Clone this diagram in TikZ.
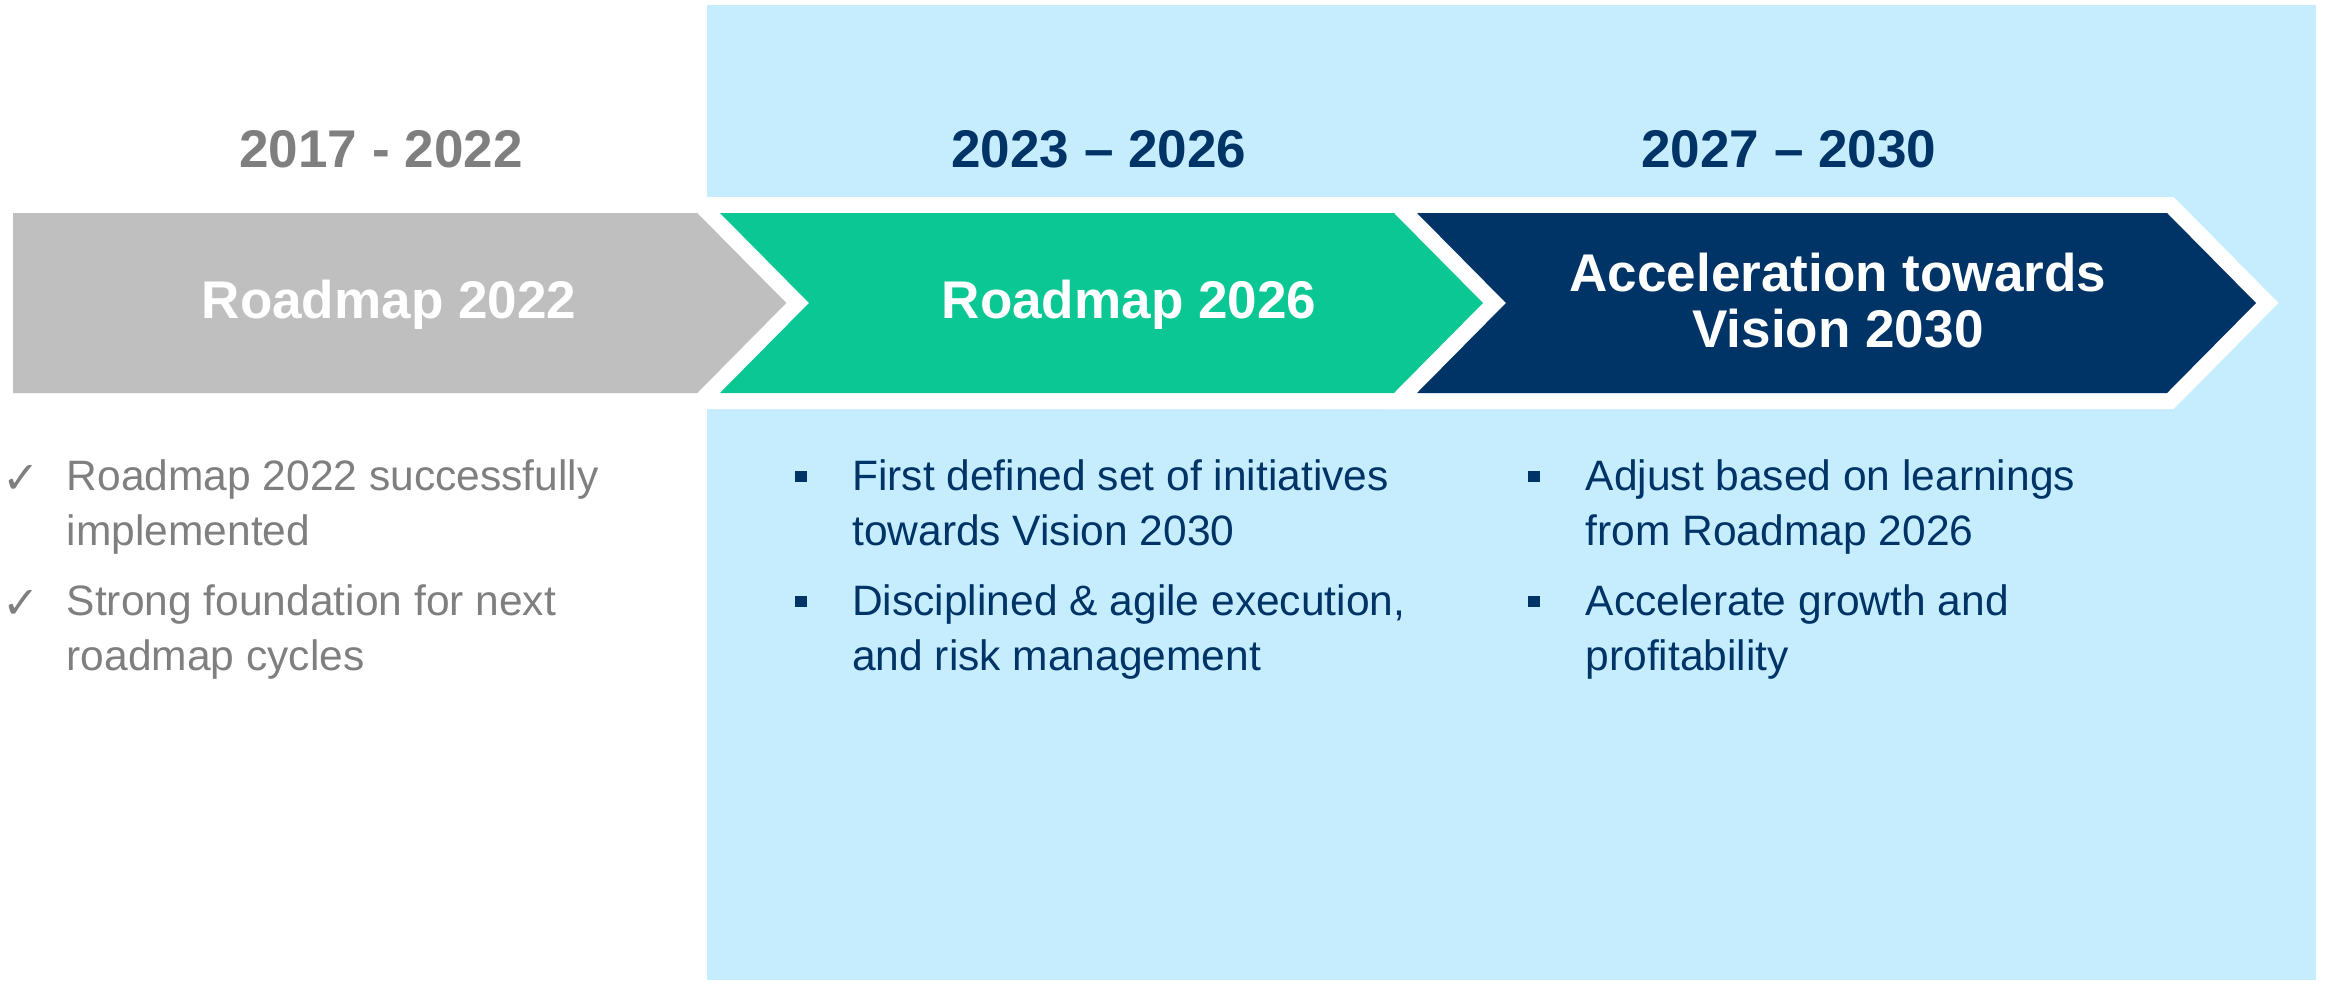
\documentclass[tikz,border=0pt]{standalone}
\usepackage{fontspec}
\setmainfont{Liberation Sans}
\newfontfamily\tickfont{DejaVu Sans}
\usepackage{tikz}
\usetikzlibrary{positioning}

\definecolor{stagegray}{RGB}{191,191,191}
\definecolor{stagegreen}{RGB}{10,199,147}
\definecolor{stagenavy}{RGB}{0,51,102}
\definecolor{futureblue}{RGB}{197,237,254}
\definecolor{pastgray}{RGB}{127,127,127}

\tikzset{
  stage/.style={preaction={draw=white,line width=3.2mm}},
  period/.style={font=\fontsize{15.1}{18}\selectfont\bfseries,anchor=base,inner sep=0},
  stagelabel/.style={font=\fontsize{15.1}{15.9}\selectfont\bfseries,text=white,align=center,anchor=base,inner sep=0},
  item/.style={font=\fontsize{12.1}{15.65}\selectfont,align=left,anchor=base west,inner sep=0},
  tick/.style={font=\tickfont\fontsize{12.7}{12.7}\selectfont,text=pastgray,anchor=base,inner sep=0},
  square/.style={fill=stagenavy,minimum width=1.2mm,minimum height=1.1mm,inner sep=0}
}

\begin{document}
\begin{tikzpicture}
  \useasboundingbox (0,0) rectangle (23.29,9.80);
 %future part
  \fill[futureblue] (7.07,0) rectangle (23.16,9.75);

 %periods
  \node[period,text=pastgray] (p1) at (3.81,8.13) {2017 - 2022};
  \node[period,text=stagenavy] (p2) at (10.99,8.13) {2023 – 2026};
  \node[period,text=stagenavy] (p3) at (17.89,8.13) {2027 – 2030};

 %stage arrows
  \fill[stage,stagegray] (0.13,7.67) -- (6.99,7.67) -- (7.88,6.77) -- (6.99,5.87) -- (0.13,5.87) -- cycle;
  \fill[stage,stagegreen] (7.20,7.67) -- (13.94,7.67) -- (14.83,6.77) -- (13.94,5.87) -- (7.20,5.87) -- (8.09,6.77) -- cycle;
  \fill[stage,stagenavy] (14.17,7.67) -- (21.67,7.67) -- (22.56,6.77) -- (21.67,5.87) -- (14.17,5.87) -- (15.06,6.77) -- cycle;
  \node[stagelabel] (s1) at (3.89,6.62) {Roadmap 2022};
  \node[stagelabel] (s2) at (11.29,6.62) {Roadmap 2026};
  \node[stagelabel] (s3) at (18.38,6.33) {Acceleration towards\\Vision 2030};

 %left column (base = last line)
  \node[tick] (t1) at (0.215,4.865) {✓};
  \node[tick] (t2) at (0.215,3.615) {✓};
  \node[item,text=pastgray] (l1) at (0.66,4.35) {Roadmap 2022 successfully\\implemented};
  \node[item,text=pastgray] (l2) at (0.66,3.10) {Strong foundation for next\\roadmap cycles};

 %middle column
  \node[square] (m1b) at (8.01,5.035) {};
  \node[square] (m2b) at (8.01,3.785) {};
  \node[item,text=stagenavy] (m1) at (8.515,4.35) {First defined set of initiatives\\towards Vision 2030};
  \node[item,text=stagenavy] (m2) at (8.515,3.10) {Disciplined \& agile execution,\\and risk management};

 %right column
  \node[square] (r1b) at (15.34,5.035) {};
  \node[square] (r2b) at (15.34,3.785) {};
  \node[item,text=stagenavy] (r1) at (15.85,4.35) {Adjust based on learnings\\from Roadmap 2026};
  \node[item,text=stagenavy] (r2) at (15.85,3.10) {Accelerate growth and\\profitability};
\end{tikzpicture}
\end{document}
